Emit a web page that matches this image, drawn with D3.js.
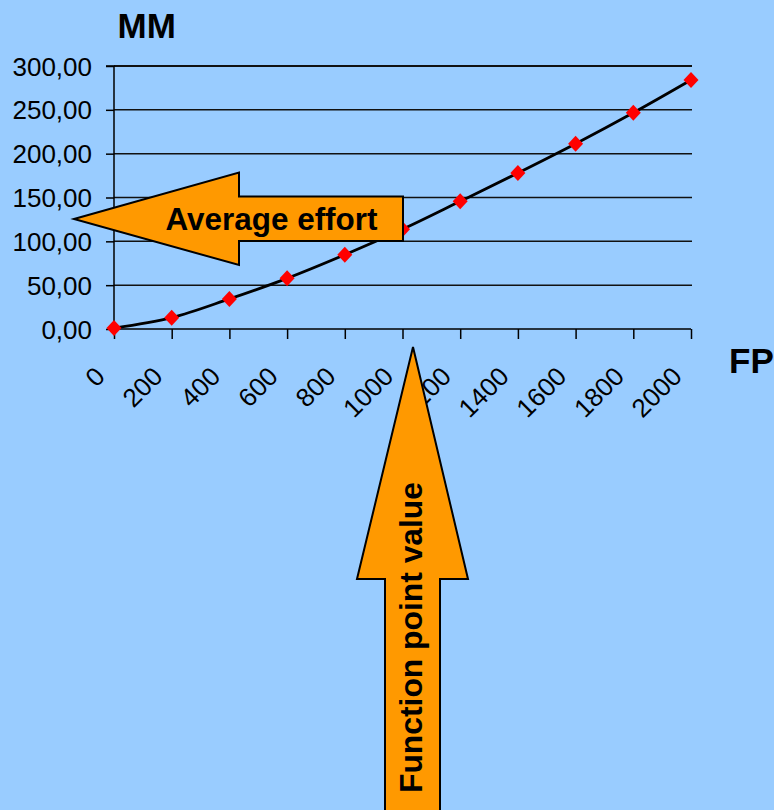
<!DOCTYPE html>
<html>
<head>
<meta charset="utf-8">
<script src="https://cdn.jsdelivr.net/npm/d3@7"></script>
<style>
  html, body { margin: 0; padding: 0; background: #99CCFF; }
  svg { display: block; }
  text { font-family: "Liberation Sans", Arial, sans-serif; }
</style>
</head>
<body>
<svg id="chart" width="774" height="810"></svg>
<script>
// Function points vs. average effort (man-months)
const fpValues = [0, 200, 400, 600, 800, 1000, 1200, 1400, 1600, 1800, 2000];
const effortValues = [1, 12.9, 34.3, 57.8, 84.7, 113.7, 145.6, 177.9, 211.3, 246.6, 284];
const yTickValues = [0, 50, 100, 150, 200, 250, 300];
const xTickValues = [0, 200, 400, 600, 800, 1000, 1200, 1400, 1600, 1800, 2000];

const svg = d3.select("#chart");
const W = 774, H = 810;

svg.append("rect").attr("width", W).attr("height", H).attr("fill", "#99CCFF");

const x = d3.scaleLinear().domain([0, 2000]).range([114, 691]);
const y = d3.scaleLinear().domain([0, 300]).range([329, 66]);

const fmtComma = v => d3.format(".2f")(v).replace(".", ",");

// horizontal gridlines
svg.append("g")
  .selectAll("line")
  .data(yTickValues.filter(v => v > 0))
  .join("line")
  .attr("x1", x(0)).attr("x2", x(2000) + 1)
  .attr("y1", d => y(d)).attr("y2", d => y(d))
  .attr("stroke", "#111")
  .attr("stroke-width", d => d === 300 ? 2 : 1.5);

// y axis
const yAxis = d3.axisLeft(y).tickValues(yTickValues).tickSize(8).tickPadding(14).tickFormat(fmtComma);
const gy = svg.append("g").attr("transform", `translate(${x(0)},0)`).call(yAxis);
gy.select(".domain").attr("stroke", "#000").attr("stroke-width", 1.5).attr("d", `M-8,${y(300)}H0V${y(0)}`);
gy.selectAll(".tick line").attr("stroke", "#000").attr("stroke-width", 1.5);
gy.selectAll(".tick text")
  .attr("font-size", 26)
  .attr("fill", "#000")
  .attr("dy", "0.35em")
  .attr("font-family", "Liberation Sans, Arial, sans-serif");

// x axis
const xAxis = d3.axisBottom(x).tickValues(xTickValues).tickSize(10).tickFormat(d3.format("d"));
const gx = svg.append("g").attr("transform", `translate(0,${y(0)})`).call(xAxis);
gx.select(".domain").attr("stroke", "#000").attr("stroke-width", 1.5).attr("d", `M${x(0)},0H${x(2000)}`);
gx.selectAll(".tick line").attr("stroke", "#000").attr("stroke-width", 1.5);
gx.selectAll(".tick text")
  .attr("font-size", 26)
  .attr("fill", "#000")
  .attr("font-family", "Liberation Sans, Arial, sans-serif")
  .attr("text-anchor", "end")
  .attr("y", 0).attr("dy", 0)
  .attr("transform", "translate(-8,49) rotate(-45)");

// smoothed effort curve
const pts = fpValues.map((fp, i) => [x(fp), y(effortValues[i])]);
svg.append("path")
  .attr("d", d3.line().curve(d3.curveCatmullRom.alpha(0.5))(pts))
  .attr("fill", "none")
  .attr("stroke", "#000")
  .attr("stroke-width", 2.8);

// diamond markers
svg.append("g")
  .selectAll("path")
  .data(pts)
  .join("path")
  .attr("transform", d => `translate(${d[0]},${d[1]})`)
  .attr("d", "M0,-8L7.5,0L0,8L-7.5,0Z")
  .attr("fill", "#FF0000");

// axis titles
svg.append("text").attr("x", 117.5).attr("y", 37.5)
  .attr("font-size", 35).attr("font-weight", "bold").attr("fill", "#000").text("MM");
svg.append("text").attr("x", 729).attr("y", 373)
  .attr("font-size", 35).attr("font-weight", "bold").attr("fill", "#000").text("FP");

// left-pointing "Average effort" arrow
const leftArrow = [[74, 219], [239, 172.5], [239, 196.5], [403, 196.5], [403, 241], [239, 241], [239, 265]];
svg.append("path")
  .attr("d", d3.line()(leftArrow) + "Z")
  .attr("fill", "#FF9900")
  .attr("stroke", "#000")
  .attr("stroke-width", 2)
  .attr("stroke-linejoin", "miter");
svg.append("text").attr("x", 271.5).attr("y", 230)
  .attr("text-anchor", "middle")
  .attr("font-size", 31).attr("font-weight", "bold").attr("fill", "#000")
  .attr("textLength", 212).attr("lengthAdjust", "spacingAndGlyphs")
  .text("Average effort");

// upward "Function point value" arrow
const upArrow = [[413, 347], [468, 579], [440, 579], [440, 820], [385, 820], [385, 579], [357, 579]];
svg.append("path")
  .attr("d", d3.line()(upArrow) + "Z")
  .attr("fill", "#FF9900")
  .attr("stroke", "#000")
  .attr("stroke-width", 2)
  .attr("stroke-linejoin", "miter");
svg.append("text")
  .attr("transform", "translate(421.5,637.5) rotate(-90)")
  .attr("text-anchor", "middle")
  .attr("font-size", 31).attr("font-weight", "bold").attr("fill", "#000")
  .attr("textLength", 311).attr("lengthAdjust", "spacingAndGlyphs")
  .text("Function point value");
</script>
</body>
</html>
